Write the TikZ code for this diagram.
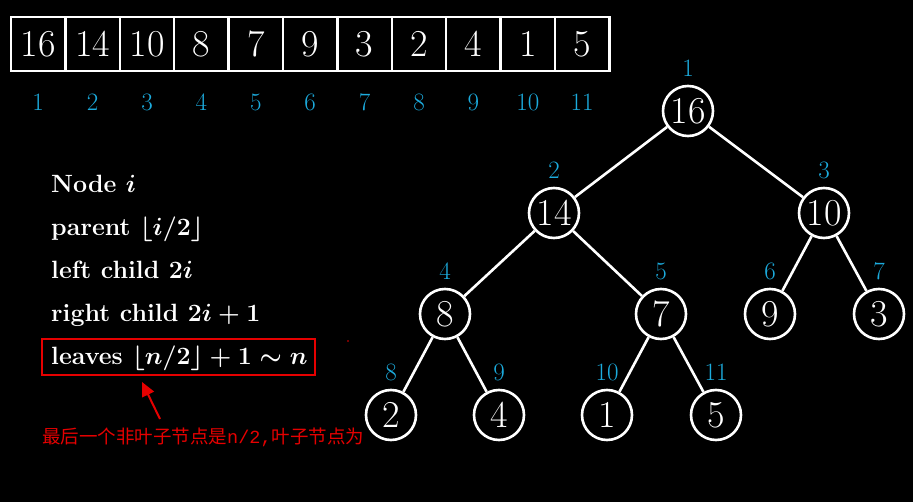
\documentclass[tikz,border=0pt]{standalone}
\usepackage{fontspec}
\newfontfamily\cjk{Noto Sans CJK SC}
\newfontfamily\monof{Liberation Mono}
\usetikzlibrary{arrows.meta,calc}
\definecolor{idx}{RGB}{28,172,222}
\definecolor{annot}{RGB}{230,0,0}
\begin{document}
\begin{tikzpicture}[x=1pt,y=-1pt,
 cell/.style={draw=white, line width=2.4pt, minimum width=54.4pt, minimum height=54pt, inner sep=0pt, text=white, font=\fontsize{38}{38}\selectfont},
 idxlab/.style={text=idx, font=\fontsize{25}{25}\selectfont, inner sep=0pt},
 heapnode/.style={circle, draw=white, fill=black, line width=2.6pt, minimum size=50pt, inner sep=0pt, text=white, font=\fontsize{38}{38}\selectfont},
 edge/.style={draw=white, line width=2.6pt},
 infotext/.style={text=white, font=\fontsize{25}{25}\selectfont\bfseries\boldmath, anchor=base west, inner sep=0pt},
 redbox/.style={draw=annot, line width=1.8pt, inner sep=0pt},
 redarrow/.style={draw=annot, line width=2pt, -{Triangle[length=14pt,width=13pt]}},
 annottext/.style={text=annot, anchor=west, inner sep=0pt, font=\cjk\fontsize{18.5}{18.5}\selectfont},
]
\fill[black] (0,0) rectangle (913,502);
\useasboundingbox (0,0) rectangle (913,502);

% array
\foreach \v [count=\k] in {16,14,10,8,7,9,3,2,4,1,5}{
  \node[cell] (a\k) at ({11+54.4*(\k-0.5)},44) {\v};
  \node[idxlab] (ai\k) at ({11+54.4*(\k-0.5)},102) {\k};
}

% info text
\node[infotext] (l1) at (51,193) {Node $i$};
\node[infotext] (l2) at (51,236) {parent $\lfloor i/2\rfloor$};
\node[infotext] (l3) at (51,279) {left child $2i$};
\node[infotext] (l4) at (51,322) {right child $2i+1$};
\node[infotext] (l5) at (51,365) {leaves $\lfloor n/2\rfloor+1\sim n$};
\node[redbox, minimum width=273pt, minimum height=36pt] (box) at (178.5,357) {};
\node[circle, fill=annot, inner sep=0pt, minimum size=1.8pt] (dot) at (348,341) {};

% annotation
\node[annottext] (note) at (42,437) {最后一个非叶子节点是{\monof n/2,}叶子节点为};
\coordinate (arrtail) at (160,419);
\coordinate (arrtip) at (142,382);
\draw[redarrow] (arrtail) -- (arrtip);

% tree
\node[heapnode] (t1) at (688,111) {16};
\node[heapnode] (t2) at (554,213) {14};
\node[heapnode] (t3) at (824,213) {10};
\node[heapnode] (t4) at (445,314) {8};
\node[heapnode] (t5) at (661,314) {7};
\node[heapnode] (t6) at (770,314) {9};
\node[heapnode] (t7) at (879,314) {3};
\node[heapnode] (t8) at (391,415) {2};
\node[heapnode] (t9) at (499,415) {4};
\node[heapnode] (t10) at (607,415) {1};
\node[heapnode] (t11) at (716,415) {5};
\foreach \k in {1,...,11}{
  \node[idxlab] (ti\k) at ($(t\k)+(0,-43)$) {\k};
}
\draw[edge] (t1) -- (t2);
\draw[edge] (t1) -- (t3);
\draw[edge] (t2) -- (t4);
\draw[edge] (t2) -- (t5);
\draw[edge] (t3) -- (t6);
\draw[edge] (t3) -- (t7);
\draw[edge] (t4) -- (t8);
\draw[edge] (t4) -- (t9);
\draw[edge] (t5) -- (t10);
\draw[edge] (t5) -- (t11);
\end{tikzpicture}
\end{document}
